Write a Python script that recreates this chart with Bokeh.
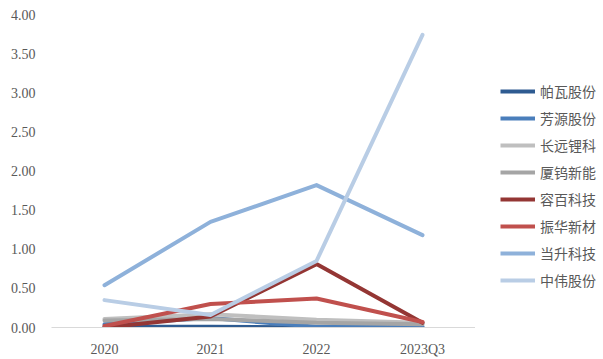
from bokeh.plotting import figure
from bokeh.models import FactorRange, Range1d, Legend, LegendItem, NumeralTickFormatter
from bokeh.layouts import row
from bokeh.embed import file_html
from bokeh.resources import INLINE

periods = ["2020", "2021", "2022", "2023Q3"]
names = ["帕瓦股份", "芳源股份", "长远锂科", "厦钨新能", "容百科技", "振华新材", "当升科技", "中伟股份"]
pawa = [0.01, 0.01, 0.00, 0.00]
fangyuan = [0.04, 0.12, 0.01, 0.01]
changyuan = [0.11, 0.17, 0.10, 0.06]
xiawu = [0.09, 0.11, 0.06, 0.04]
rongbai = [0.00, 0.14, 0.81, 0.06]
zhenhua = [0.02, 0.30, 0.37, 0.07]
dangsheng = [0.54, 1.35, 1.82, 1.18]
zhongwei = [0.35, 0.16, 0.85, 3.74]
series = [pawa, fangyuan, changyuan, xiawu, rongbai, zhenhua, dangsheng, zhongwei]
colors = ["#2E5B91", "#4A7EBB", "#BFBFBF", "#A5A5A5", "#943634", "#C0504D", "#8EB1DA", "#B9CDE5"]

xr = FactorRange(*periods, range_padding=0)
yr = Range1d(0, 4)

p = figure(width=475, height=359, x_range=xr, y_range=yr, output_backend="svg",
           toolbar_location=None, min_border_left=51, min_border_right=0,
           min_border_top=14, min_border_bottom=26)
p.outline_line_color = None
p.grid.visible = False
p.border_fill_color = "white"

for vals, c in zip(series, colors):
    p.line(periods, vals, line_color=c, line_width=4, line_cap="round", line_join="round")

p.yaxis.ticker = [0, 0.5, 1, 1.5, 2, 2.5, 3, 3.5, 4]
p.yaxis.formatter = NumeralTickFormatter(format="0.00")
p.yaxis.axis_line_color = None
p.yaxis.major_tick_line_color = None
p.yaxis.minor_tick_line_color = None
p.yaxis.major_label_text_font = "Liberation Serif"
p.yaxis.major_label_text_font_size = "14px"
p.yaxis.major_label_text_color = "#595959"
p.yaxis.major_label_standoff = 10

p.xaxis.axis_line_color = "#D9D9D9"
p.xaxis.axis_line_width = 1
p.xaxis.major_tick_line_color = None
p.xaxis.minor_tick_line_color = None
p.xaxis.major_label_text_font = "Liberation Serif"
p.xaxis.major_label_text_font_size = "14px"
p.xaxis.major_label_text_color = "#595959"
p.xaxis.major_label_standoff = 8

# legend panel
p2 = figure(width=128, height=359, x_range=xr, y_range=yr, output_backend="svg",
            toolbar_location=None, x_axis_location=None, y_axis_location=None,
            min_border=0, min_border_left=0, min_border_right=0,
            min_border_top=0, min_border_bottom=0)
p2.outline_line_color = None
p2.grid.visible = False
p2.border_fill_color = "white"

items = []
for nm, vals, c in zip(names, series, colors):
    r = p2.line(periods, vals, line_color=c, line_width=4, visible=False)
    items.append(LegendItem(label=nm, renderers=[r]))

legend = Legend(items=items, location=(25, 37), border_line_color=None,
                background_fill_alpha=0, padding=0, margin=0, spacing=7,
                glyph_width=35, glyph_height=20, label_height=20,
                label_text_font="Noto Sans CJK SC", label_text_font_size="14px",
                label_text_color="#595959", label_standoff=5)
p2.add_layout(legend, "center")

layout = row(p, p2, spacing=0)
open("out.html", "w").write(file_html(layout, INLINE))
